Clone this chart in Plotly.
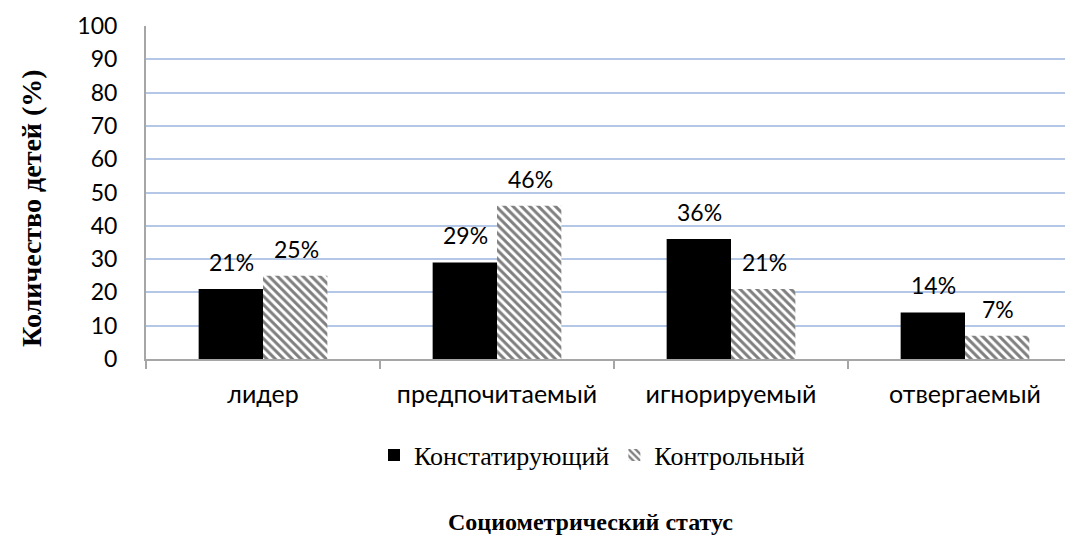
import plotly.graph_objects as go

categories = ["лидер", "предпочитаемый", "игнорируемый", "отвергаемый"]
series_names = ["Констатирующий", "Контрольный"]
konst = [21, 29, 36, 14]
kontr = [25, 46, 21, 7]
y_ticks = [0, 10, 20, 30, 40, 50, 60, 70, 80, 90, 100]

W, H = 1073, 540
OFF = 8  # page body margin
# desired plot box in screenshot coordinates
PX0, PY0, PY1 = 146, 26, 359
L = PX0 - OFF
T = PY0 - OFF
B = H + OFF - PY1
R = 0
plot_w = W - L - R
plot_h = H - T - B
CAT_W = 234.0


def px(xs):
    return (xs - PX0) / plot_w


def py(ys):
    return (PY1 - ys) / plot_h


num_font = "Lato, Carlito, Calibri, sans-serif"
serif = "Liberation Serif, Times New Roman, serif"

fig = go.Figure()
fig.add_trace(go.Bar(
    x=categories, y=konst, name=series_names[0],
    marker=dict(color="black", line=dict(width=0)),
))
fig.add_trace(go.Bar(
    x=categories, y=kontr, name=series_names[1],
    marker=dict(color="white", line=dict(width=0),
                pattern=dict(shape="\\", fgcolor="black", bgcolor="white",
                             size=6, solidity=0.5)),
))

annotations = []
for vals, shift in ((konst, -32), (kontr, 33)):
    for c, v in zip(categories, vals):
        annotations.append(dict(
            x=c, y=v, xref="x", yref="y", text=f"{v}%", showarrow=False,
            xshift=shift, yshift=27, font=dict(family=num_font, size=23, color="black"),
        ))

annotations.append(dict(
    x=px(590), y=py(522), xref="paper", yref="paper",
    text="<b>Социометрический статус</b>", showarrow=False,
    font=dict(family=serif, size=24, color="black"), xanchor="center", yanchor="middle",
))
annotations.append(dict(
    x=px(31), y=py(208), xref="paper", yref="paper",
    text="<b>Количество детей (%)</b>", showarrow=False, textangle=-90,
    font=dict(family=serif, size=28, color="black"), xanchor="center", yanchor="middle",
))

fig.update_layout(
    width=W, height=H,
    margin=dict(l=L, r=R, t=T, b=B, pad=0),
    plot_bgcolor="white", paper_bgcolor="white",
    barmode="group", bargap=0.45, bargroupgap=0,
    showlegend=True,
    legend=dict(orientation="h", x=px(592), y=py(455),
                xanchor="center", yanchor="middle",
                font=dict(family=serif, size=26, color="black"),
                itemwidth=30, traceorder="normal"),
    annotations=annotations,
    xaxis=dict(
        range=[-0.5, -0.5 + plot_w / CAT_W],
        showline=True, linecolor="#A6A6A6", linewidth=2,
        ticks="outside", tickson="boundaries", ticklen=8, tickcolor="#A6A6A6", tickwidth=2,
        ticklabelstandoff=12,
        tickfont=dict(family=num_font, size=25, color="black"),
        showgrid=False,
    ),
    yaxis=dict(
        range=[0, 100], tickvals=y_ticks, ticktext=[str(v) for v in y_ticks],
        showline=True, linecolor="#A6A6A6", linewidth=2,
        showgrid=True, gridcolor="#B4C7E7", gridwidth=1.5,
        ticks="", ticklabelstandoff=22,
        tickfont=dict(family=num_font, size=23, color="black"),
        zeroline=False,
    ),
)

fig.write_html("out.html")
